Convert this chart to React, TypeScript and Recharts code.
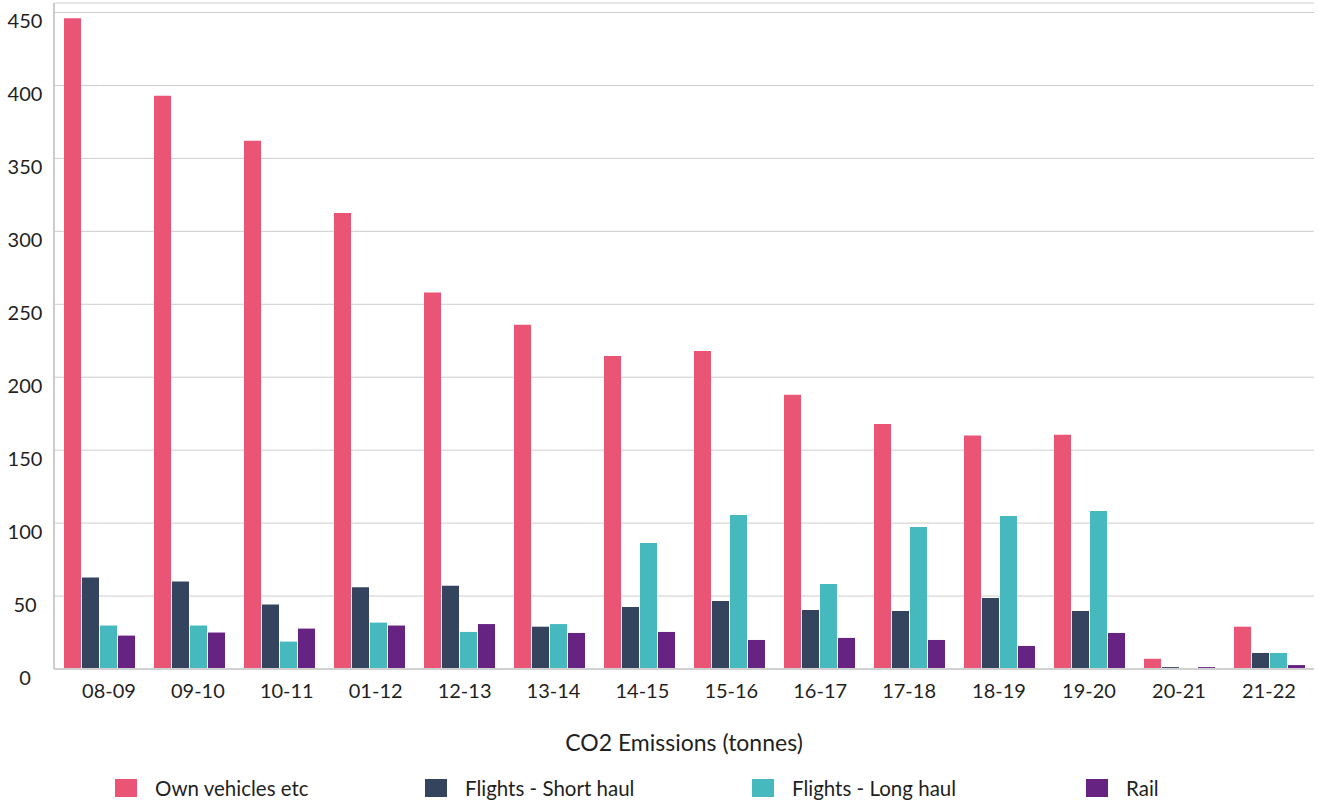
import React from "react";
import {
  Bar,
  BarChart,
  CartesianGrid,
  Legend,
  XAxis,
  YAxis,
} from "recharts";

const YEARS = [
  "08-09", "09-10", "10-11", "01-12", "12-13", "13-14", "14-15",
  "15-16", "16-17", "17-18", "18-19", "19-20", "20-21", "21-22",
];

const OWN_VEHICLES = [446, 393, 362, 312.5, 258, 236, 214.5, 218, 188, 168, 160, 160.5, 7, 29];
const SHORT_HAUL = [62.7, 60, 44.2, 56, 57, 29, 42.5, 46.6, 40.4, 39.8, 48.7, 39.8, 1.3, 11];
const LONG_HAUL = [29.8, 29.8, 18.8, 31.8, 25.4, 30.8, 86.4, 105.5, 58.3, 97.3, 104.9, 108.3, 0.4, 11];
const RAIL = [22.9, 25, 27.7, 29.8, 30.8, 24.7, 25.4, 19.9, 21.3, 19.9, 15.8, 24.7, 1.3, 2.7];

const Y_TICKS = [0, 50, 100, 150, 200, 250, 300, 350, 400, 450];

const SERIES = [
  { key: "own", name: "Own vehicles etc", color: "#EB5575" },
  { key: "short", name: "Flights - Short haul", color: "#34445E" },
  { key: "long", name: "Flights - Long haul", color: "#46B9BF" },
  { key: "rail", name: "Rail", color: "#672382" },
];

const data = YEARS.map((year, i) => ({
  year,
  own: OWN_VEHICLES[i],
  short: SHORT_HAUL[i],
  long: LONG_HAUL[i],
  rail: RAIL[i],
}));

const FONT = "Lato, 'Noto Sans', sans-serif";
const TEXT = "#1f1f1f";

// legend items sit at uneven x positions in the original
const LEGEND_X = [115, 425, 752, 1086];

function XTick(props: any) {
  const { x, y, payload, index } = props;
  // the original labels drift a little right of the groups on the left side
  const shift = Math.max(0, 10 - 1.1 * index);
  return (
    <text x={x + shift} y={y + 21} textAnchor="middle" dominantBaseline="central"
      fontFamily={FONT} fontSize={20} fill={TEXT}>
      {payload.value}
    </text>
  );
}

function YTick(props: any) {
  const { y, payload } = props;
  return (
    <text x={25} y={y + 8} textAnchor="middle" dominantBaseline="central"
      fontFamily={FONT} fontSize={20} fill={TEXT}>
      {payload.value}
    </text>
  );
}

function LegendContent() {
  return (
    <div style={{ position: "relative", width: 1319, height: 24 }}>
      {SERIES.map((s, i) => (
        <div key={s.key} style={{
          position: "absolute", left: LEGEND_X[i], top: 0,
          display: "flex", alignItems: "center", height: 24,
        }}>
          <span style={{ width: 22, height: 18, background: s.color, display: "inline-block" }} />
          <span style={{
            marginLeft: 18, fontFamily: FONT, fontSize: 20.5, color: TEXT,
          }}>{s.name}</span>
        </div>
      ))}
    </div>
  );
}

export default function App() {
  return (
    <div style={{ position: "absolute", left: 0, top: 0, background: "#fff" }}>
      <BarChart
        width={1319}
        height={802}
        data={data}
        margin={{ top: 3, right: 5, bottom: 0, left: 0 }}
        barSize={17}
        barGap={1}
      >
        <CartesianGrid vertical={false} stroke="#cdcdcd" />
        <XAxis
          dataKey="year"
          height={133}
          tickLine={false}
          tickSize={0}
          tickMargin={0}
          axisLine={{ stroke: "#d0d0d0", strokeWidth: 2 }}
          tick={<XTick />}
          interval={0}
          label={{
            value: "CO2 Emissions (tonnes)",
            position: "insideTop",
            offset: 66,
            fill: TEXT,
            fontSize: 23,
            fontFamily: FONT,
          }}
        />
        <YAxis
          width={54}
          domain={[0, 456.5]}
          ticks={Y_TICKS}
          tickLine={false}
          tickSize={0}
          tickMargin={0}
          axisLine={{ stroke: "#cccccc", strokeWidth: 2 }}
          tick={<YTick />}
        />
        <Legend
          verticalAlign="middle"
          layout="horizontal"
          content={<LegendContent />}
          wrapperStyle={{ top: 776, left: 0, width: 1319 }}
        />
        {SERIES.map((s) => (
          <Bar key={s.key} dataKey={s.key} name={s.name} fill={s.color}
            isAnimationActive={false} />
        ))}
      </BarChart>
    </div>
  );
}
